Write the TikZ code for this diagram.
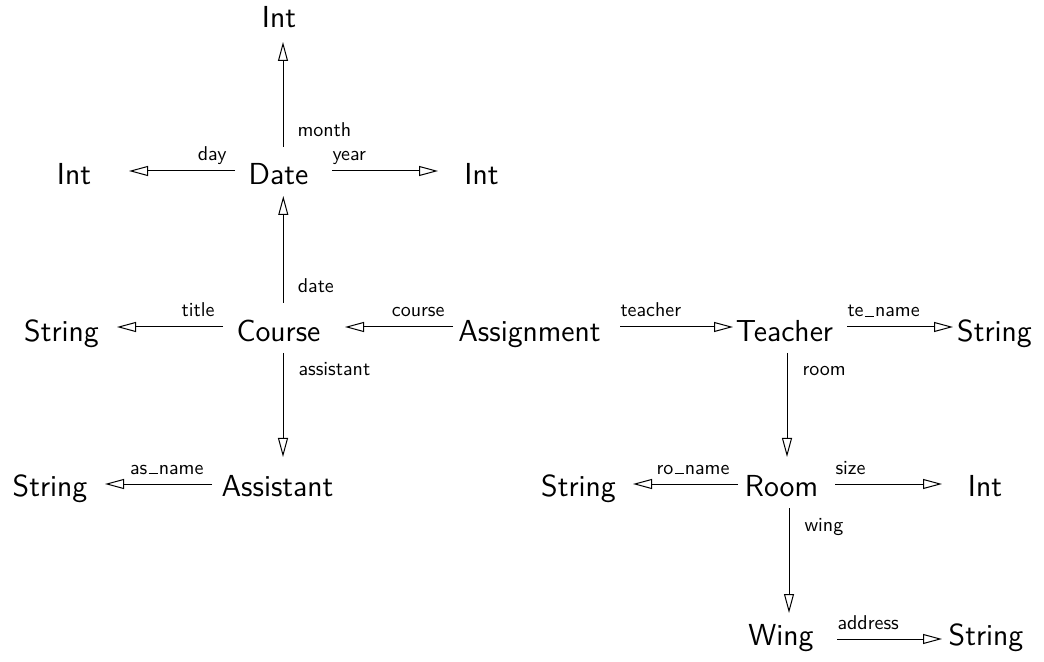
\documentclass[tikz,border=0pt]{standalone}
\usetikzlibrary{arrows.meta,calc}
% short underscore resting on the baseline
\newcommand\usc{\leavevmode\kern.06em\vbox{\hrule width .45em height .6pt}\kern.06em}
\begin{document}
\begin{tikzpicture}[x=0.5pt,y=-0.5pt,
  obj/.style={anchor=base,inner sep=0pt,font=\fontsize{15.2}{18}\selectfont\sffamily},
  rel/.style={line width=0.5pt,-{Triangle[open,length=9.5pt,width=5pt,line width=0.5pt]}},
  lbl/.style={pos=0,inner sep=0pt,font=\fontsize{10}{12}\selectfont\sffamily},
  lblR/.style={lbl,anchor=base west,yshift=5pt},
  lblL/.style={lbl,anchor=base east,xshift=-4pt,yshift=5pt},
  lblU/.style={lbl,anchor=base west,xshift=7pt,yshift=5pt},
  lblD/.style={lbl,anchor=base west,xshift=7.5pt,yshift=-11.5pt}]
\useasboundingbox (0,0) rectangle (1044,662);

% objects
\node[obj] (intT)    at (279,28)    {Int};
\node[obj] (intL)    at (74,185)    {Int};
\node[obj] (date)    at (278.5,185) {Date};
\node[obj] (intR)    at (481.5,185) {Int};
\node[obj] (strC)    at (61.5,342)  {String};
\node[obj] (course)  at (278.5,342) {Course};
\node[obj] (assign)  at (529.5,342) {Assignment};
\node[obj] (teacher) at (784.5,342) {Teacher};
\node[obj] (strT)    at (994.5,342) {String};
\node[obj] (strA)    at (50,496)    {String};
\node[obj] (assist)  at (277.5,496) {Assistant};
\node[obj] (strR)    at (578.5,496) {String};
\node[obj] (room)    at (781.5,496) {Room};
\node[obj] (intRm)   at (985,496)   {Int};
\node[obj] (wing)    at (781,645)   {Wing};
\node[obj] (strW)    at (986,645)   {String};

% attributes of Date
\draw[rel] ($(date.base)+(4.5,-38)$) -- node[lblU] {month} ($(intT.base)+(4,14)$);
\draw[rel] ($(date.base)+(-43.5,-14)$) -- node[lblL] {day} ($(intL.base)+(55,-14)$);
\draw[rel] ($(date.base)+(53.5,-14)$) -- node[lblR] {year} ($(intR.base)+(-43.5,-14)$);

% attributes of Course
\draw[rel] ($(course.base)+(4.8,-39)$) -- node[lblU] {date} ($(date.base)+(4.8,11)$);
\draw[rel] ($(course.base)+(-55.5,-15)$) -- node[lblL] {title} ($(strC.base)+(55.5,-15)$);
\draw[rel] ($(course.base)+(4.5,11)$) -- node[lblD] {assistant} ($(assist.base)+(5.5,-39)$);

% attributes of Assignment
\draw[rel] ($(assign.base)+(-76.5,-15)$) -- node[lblL] {course} ($(course.base)+(66.5,-15)$);
\draw[rel] ($(assign.base)+(90.5,-15)$) -- node[lblR] {teacher} ($(teacher.base)+(-51.5,-15)$);

% attributes of Teacher
\draw[rel] ($(teacher.base)+(62.5,-15)$) -- node[lblR] {te\usc name} ($(strT.base)+(-41.5,-15)$);
\draw[rel] ($(teacher.base)+(2.5,11)$) -- node[lblD] {room} ($(room.base)+(5.5,-39)$);

% attributes of Assistant
\draw[rel] ($(assist.base)+(-65.5,-12)$) -- node[lblL] {as\usc name} ($(strA.base)+(55,-12)$);

% attributes of Room
\draw[rel] ($(room.base)+(-43.5,-12)$) -- node[lblL] {ro\usc name} ($(strR.base)+(54.5,-12)$);
\draw[rel] ($(room.base)+(53.5,-12)$) -- node[lblR] {size} ($(intRm.base)+(-43,-12)$);
\draw[rel] ($(room.base)+(7.5,12)$) -- node[lblD] {wing} ($(wing.base)+(8,-32)$);

% attributes of Wing
\draw[rel] ($(wing.base)+(56,-6)$) -- node[lblR] {address} ($(strW.base)+(-44,-6)$);
\end{tikzpicture}
\end{document}
